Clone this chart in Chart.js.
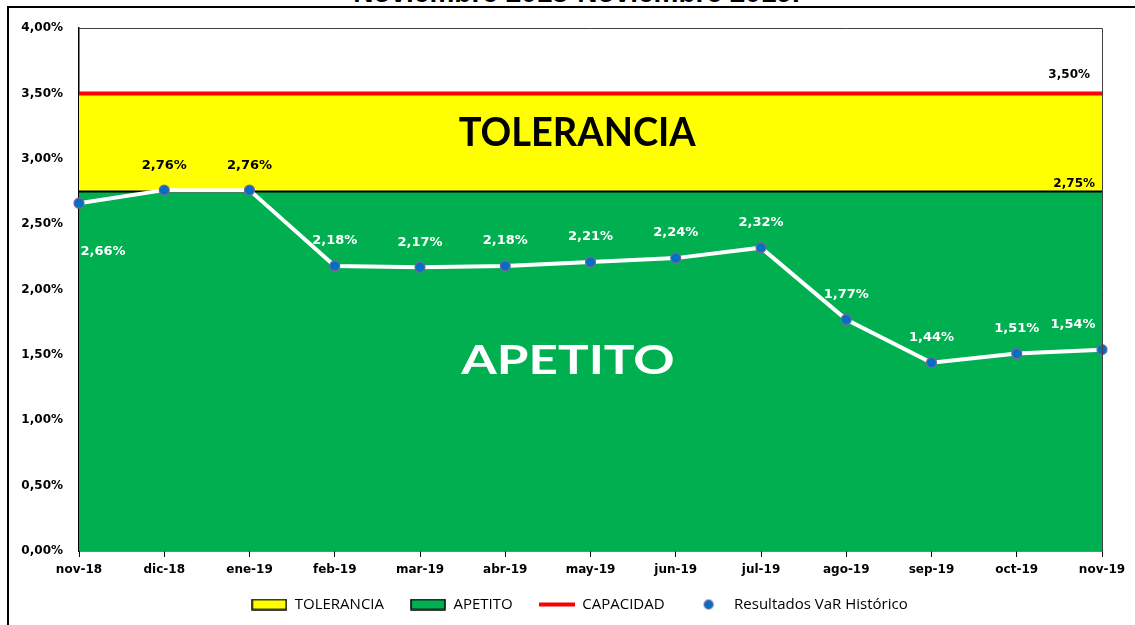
<!DOCTYPE html>
<html>
<head>
<meta charset="utf-8">
<script src="https://cdn.jsdelivr.net/npm/chart.js@4.4.1/dist/chart.umd.min.js"></script>
<style>
  html, body { margin: 0; padding: 0; background: #fff; overflow: hidden; }
  #wrap { position: relative; width: 1135px; height: 625px; overflow: hidden; }
  #frame { position: absolute; left: 7px; top: 6px; width: 1200px; height: 700px; border: 2px solid #000; box-sizing: border-box; }
  #title { position: absolute; left: 9px; width: 1135px; top: -23px; text-align: center; font: bold 28px "Liberation Sans", Arial, sans-serif; color: #000; }
  canvas { position: absolute; left: 0; top: 0; }
</style>
</head>
<body>
<div id="wrap">
  <div id="frame"></div>
  <div id="title">Noviembre 2018-Noviembre 2019.</div>
  <canvas id="myChart" width="1135" height="625"></canvas>
</div>
<script>
const months = ['nov-18', 'dic-18', 'ene-19', 'feb-19', 'mar-19', 'abr-19', 'may-19',
                'jun-19', 'jul-19', 'ago-19', 'sep-19', 'oct-19', 'nov-19'];
const varHistorico = [2.66, 2.76, 2.76, 2.18, 2.17, 2.18, 2.21, 2.24, 2.32, 1.77, 1.44, 1.51, 1.54];
const tolerancia = [3.5, 3.5, 3.5, 3.5, 3.5, 3.5, 3.5, 3.5, 3.5, 3.5, 3.5, 3.5, 3.5];
const apetito = [2.75, 2.75, 2.75, 2.75, 2.75, 2.75, 2.75, 2.75, 2.75, 2.75, 2.75, 2.75, 2.75];
const capacidad = [3.5, 3.5, 3.5, 3.5, 3.5, 3.5, 3.5, 3.5, 3.5, 3.5, 3.5, 3.5, 3.5];
const yTicks = [0, 0.5, 1, 1.5, 2, 2.5, 3, 3.5, 4];

const YELLOW = '#FFFF00';
const GREEN = '#00B050';
const RED = '#FF0000';
const BLUE = '#0070C0';

function fmt(v) {
    return v.toFixed(2).replace('.', ',') + '%';
}

// little pictures for the legend symbols
function symbol(kind, color) {
    const c = document.createElement('canvas');
    c.width = 36; c.height = 12;
    const g = c.getContext('2d');
    if (kind === 'box') {
        g.fillStyle = color;
        g.fillRect(1, 1, 34, 10);
        g.strokeStyle = '#000';
        g.lineWidth = 1.5;
        g.strokeRect(1, 1, 34, 10);
    } else if (kind === 'line') {
        g.strokeStyle = color;
        g.lineWidth = 4;
        g.beginPath(); g.moveTo(0, 6); g.lineTo(36, 6); g.stroke();
    } else {
        g.fillStyle = color;
        g.strokeStyle = '#7F60A8';
        g.lineWidth = 1.2;
        g.beginPath(); g.arc(18, 6, 4.5, 0, Math.PI * 2); g.fill(); g.stroke();
    }
    return c;
}

const legendEntries = [
    { text: 'TOLERANCIA', pic: symbol('box', YELLOW), ds: 0 },
    { text: 'APETITO', pic: symbol('box', GREEN), ds: 1 },
    { text: 'CAPACIDAD', pic: symbol('line', RED), ds: 2 },
    { text: 'Resultados VaR Histórico', pic: symbol('dot', BLUE), ds: 3 }
];

function stretchedText(ctx, text, cx, cy, sx) {
    ctx.save();
    ctx.translate(cx, cy);
    ctx.scale(sx, 1);
    ctx.fillText(text, 0, 0);
    ctx.restore();
}

const labelPlugin = {
    id: 'varLabels',
    afterLayout(chart) {
        // legend sits a bit right of the page centre and closer to the axis
        const lg = chart.legend;
        lg.left += 12;
        lg.right += 12;
        lg.top -= 7;
        lg.bottom -= 7;
    },
    afterDatasetsDraw(chart) {
        const ctx = chart.ctx;
        const area = chart.chartArea;
        const y = chart.scales.y;
        const last = months.length - 1;
        ctx.save();
        ctx.textAlign = 'center';
        ctx.textBaseline = 'middle';

        // zone names
        ctx.font = 'bold 40px Lato';
        ctx.fillStyle = '#000';
        stretchedText(ctx, 'TOLERANCIA', area.left + area.width * 0.487, y.getPixelForValue(3.2), 0.95);
        ctx.fillStyle = '#fff';
        stretchedText(ctx, 'APETITO', area.left + area.width * 0.478, y.getPixelForValue(1.45), 1.28);

        // limit labels
        ctx.font = 'bold 12px "DejaVu Sans"';
        ctx.fillStyle = '#000';
        ctx.textAlign = 'right';
        ctx.fillText(fmt(capacidad[last]), area.right - 12, y.getPixelForValue(capacidad[last]) - 19);
        ctx.fillText(fmt(apetito[last]), area.right - 7, y.getPixelForValue(apetito[last]) - 8);

        // VaR labels
        ctx.textAlign = 'center';
        ctx.font = 'bold 13px "DejaVu Sans"';
        const meta = chart.getDatasetMeta(3);
        meta.data.forEach((pt, i) => {
            const v = varHistorico[i];
            ctx.fillStyle = v > apetito[i] ? '#000' : '#fff';
            let lx = pt.x, ly = pt.y - 25;
            if (i === 0) { lx = pt.x + 24; ly = pt.y + 48; }
            if (i === last) { lx = pt.x - 29; }
            ctx.fillText(fmt(v), lx, ly);
        });

        // plot frame top / right
        ctx.strokeStyle = '#404040';
        ctx.lineWidth = 1;
        ctx.beginPath();
        ctx.moveTo(area.left, area.top + 0.5);
        ctx.lineTo(area.right + 0.5, area.top + 0.5);
        ctx.lineTo(area.right + 0.5, area.bottom);
        ctx.stroke();
        ctx.restore();
    }
};

const ctx = document.getElementById('myChart').getContext('2d');
new Chart(ctx, {
    type: 'line',
    data: {
        labels: months,
        datasets: [{
            label: 'TOLERANCIA',
            data: tolerancia,
            order: 4,
            fill: 'origin',
            backgroundColor: YELLOW,
            borderWidth: 0,
            pointRadius: 0
        }, {
            label: 'APETITO',
            data: apetito,
            order: 3,
            fill: 'origin',
            backgroundColor: GREEN,
            borderColor: '#000',
            borderWidth: 2,
            pointRadius: 0
        }, {
            label: 'CAPACIDAD',
            data: capacidad,
            order: 2,
            fill: false,
            borderColor: RED,
            borderWidth: 4,
            pointRadius: 0
        }, {
            label: 'Resultados VaR Histórico',
            data: varHistorico,
            order: 1,
            fill: false,
            borderColor: '#fff',
            borderWidth: 4,
            pointRadius: 5,
            pointBackgroundColor: BLUE,
            pointBorderColor: '#7F60A8',
            pointBorderWidth: 1.2,
            tension: 0
        }]
    },
    options: {
        responsive: false,
        animation: false,
        events: [],
        layout: {
            padding: { left: 10, right: 10, top: 28, bottom: -4 }
        },
        plugins: {
            tooltip: { enabled: false },
            legend: {
                position: 'bottom',
                align: 'center',
                labels: {
                    usePointStyle: true,
                    pointStyleWidth: 36,
                    padding: 26,
                    color: '#1a1a1a',
                    font: { family: '"Open Sans"', size: 15 },
                    generateLabels: () => legendEntries.map(e => ({
                        text: e.text,
                        pointStyle: e.pic,
                        fillStyle: 'rgba(0,0,0,0)',
                        strokeStyle: 'rgba(0,0,0,0)',
                        lineWidth: 0,
                        hidden: false,
                        datasetIndex: e.ds
                    }))
                }
            }
        },
        scales: {
            x: {
                offset: false,
                afterFit: (scale) => { scale.height = 27; scale.paddingRight = 33; scale.paddingLeft = 0; },
                grid: {
                    display: true,
                    drawOnChartArea: false,
                    drawTicks: true,
                    tickLength: 6,
                    color: '#000'
                },
                border: { color: '#000', width: 1.5 },
                ticks: {
                    color: '#000',
                    padding: 6,
                    maxRotation: 0,
                    autoSkip: false,
                    font: { family: '"DejaVu Sans"', weight: 'bold', size: 12 }
                }
            },
            y: {
                min: 0,
                max: 4,
                afterFit: (scale) => { scale.width = 69; },
                afterBuildTicks: (scale) => { scale.ticks = yTicks.map(v => ({ value: v })); },
                grid: { display: false },
                border: { color: '#000', width: 1.5 },
                ticks: {
                    color: '#000',
                    padding: 8,
                    font: { family: '"DejaVu Sans"', weight: 'bold', size: 12 },
                    callback: (v) => fmt(v)
                }
            }
        }
    },
    plugins: [labelPlugin]
});
</script>
</body>
</html>
